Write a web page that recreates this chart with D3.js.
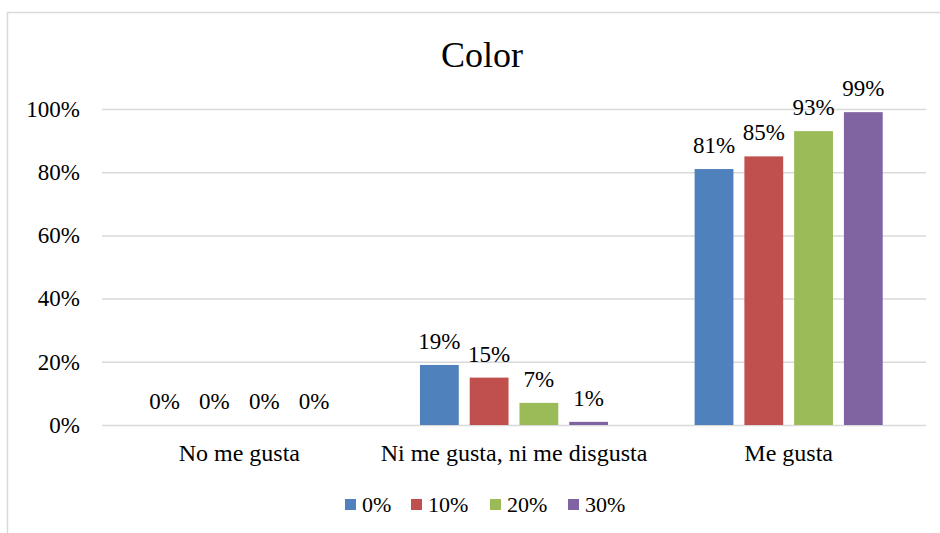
<!DOCTYPE html>
<html>
<head>
<meta charset="utf-8">
<script src="https://cdn.jsdelivr.net/npm/d3@7"></script>
<style>
  body { margin: 0; background: #fff; }
  svg text { font-family: "Liberation Serif", "Times New Roman", Tinos, "DejaVu Serif", serif; fill: #000; }
</style>
</head>
<body>
<svg id="chart" width="940" height="533"></svg>
<script>
const categories = ['No me gusta', 'Ni me gusta, ni me disgusta', 'Me gusta'];
const seriesNames = ['0%', '10%', '20%', '30%'];
const seriesColors = ['#4f81bd', '#c0504d', '#9bbb59', '#8064a2'];
const values0 = [0, 19, 81];
const values10 = [0, 15, 85];
const values20 = [0, 7, 93];
const values30 = [0, 1, 99];
const yTicks = [0, 20, 40, 60, 80, 100];

const allValues = [values0, values10, values20, values30];
const plotLeft = 102, plotRight = 926, plotTop = 109, plotBottom = 425;
const fontFamily = '"Liberation Serif", "Times New Roman", Tinos, "DejaVu Serif", serif';

let svg = d3.select('#chart');

// outer frame
svg.append('rect')
    .attr('x', 7.5).attr('y', 12.5)
    .attr('width', 960).attr('height', 560)
    .attr('fill', '#fff')
    .attr('stroke', '#d9d9d9')
    .attr('stroke-width', 1.5);

svg.append('text')
    .attr('x', 482).attr('y', 67)
    .attr('text-anchor', 'middle')
    .style('font-size', '36px')
    .style('font-family', fontFamily)
    .text('Color');

let y = d3.scaleLinear().domain([0, 100]).range([plotBottom, plotTop]);
let x0 = d3.scaleBand().domain(categories).range([plotLeft, plotRight]).padding(0);
let x1 = d3.scaleBand().domain(seriesNames).range([0, x0.bandwidth()])
    .paddingInner(0.22).paddingOuter(0.87);

let yAxis = d3.axisLeft(y)
    .tickValues(yTicks)
    .tickFormat(d => d + '%')
    .tickSizeInner(-(plotRight - plotLeft))
    .tickSizeOuter(0)
    .tickPadding(22);

let gy = svg.append('g')
    .attr('class', 'y-axis')
    .attr('transform', `translate(${plotLeft}, 0)`)
    .call(yAxis);
gy.select('.domain').remove();
gy.selectAll('.tick line').attr('stroke', '#d9d9d9').attr('stroke-width', 1.5);
gy.selectAll('.tick text')
    .style('font-size', '23px')
    .style('font-family', fontFamily)
    .attr('fill', '#000')
    .attr('dy', '0.32em');

let xAxis = d3.axisBottom(x0).tickSize(0);
let gx = svg.append('g')
    .attr('class', 'x-axis')
    .attr('transform', `translate(0, ${plotBottom})`)
    .call(xAxis);
gx.select('.domain').remove();
gx.selectAll('.tick text')
    .attr('y', 36).attr('dy', 0)
    .style('font-size', '24px')
    .style('font-family', fontFamily)
    .attr('fill', '#000');

let groups = svg.append('g').selectAll('g.series')
    .data(seriesNames)
    .join('g')
    .attr('class', 'series');

groups.each(function(name, i) {
    let g = d3.select(this);
    let rows = categories.map((c, j) => ({cat: c, v: allValues[i][j]}));
    g.selectAll('rect')
        .data(rows)
        .join('rect')
        .attr('x', d => x0(d.cat) + x1(name))
        .attr('y', d => y(d.v))
        .attr('width', x1.bandwidth())
        .attr('height', d => plotBottom - y(d.v))
        .attr('fill', seriesColors[i]);
    g.selectAll('text')
        .data(rows)
        .join('text')
        .attr('x', d => x0(d.cat) + x1(name) + x1.bandwidth() / 2)
        .attr('y', d => y(d.v) - 16)
        .attr('text-anchor', 'middle')
        .style('font-size', '23px')
        .style('font-family', fontFamily)
        .text(d => d.v + '%');
});

// legend
let legendX = [345, 411, 490, 568];
let legend = svg.append('g').selectAll('g')
    .data(seriesNames)
    .join('g')
    .attr('transform', (d, i) => `translate(${legendX[i]}, 499)`);
legend.append('rect')
    .attr('width', 11).attr('height', 11)
    .attr('fill', (d, i) => seriesColors[i]);
legend.append('text')
    .attr('x', 17).attr('y', 13)
    .style('font-size', '22px')
    .style('font-family', fontFamily)
    .text(d => d);
</script>
</body>
</html>
